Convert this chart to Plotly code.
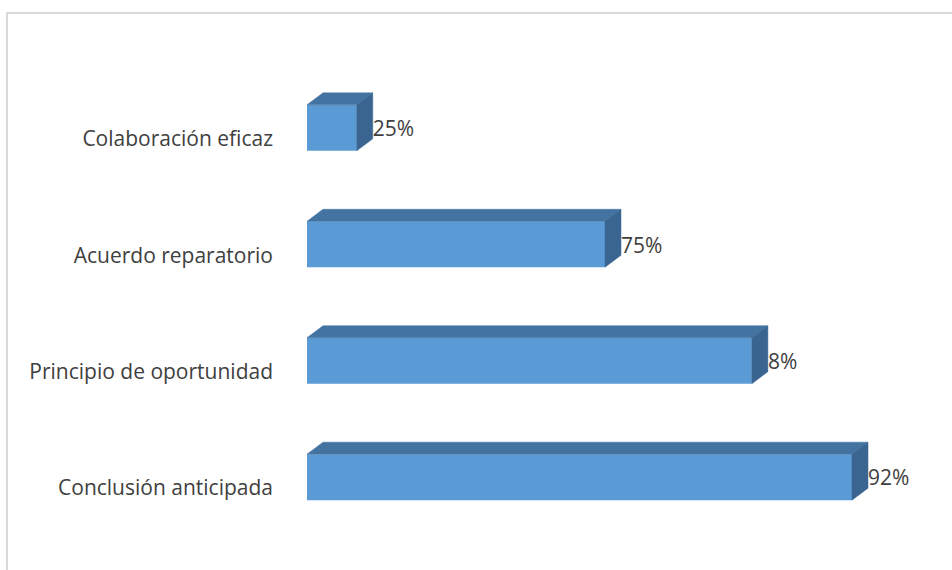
import plotly.graph_objects as go

categories = ["Conclusión anticipada", "Principio de oportunidad", "Acuerdo reparatorio", "Colaboración eficaz"]
values = [92, 75.1, 50.3, 8.4]
labels = ["92%", "8%", "75%", "25%"]

W, H = 952, 570
ml, mr, mt, mb = 307, 23, 58, 23
xr = [0, 105]
yr = [-0.6, 3.6]
pw = W - ml - mr
ph = H - mt - mb
pxu = pw / (xr[1] - xr[0])
pyu = ph / (yr[1] - yr[0])

bw = 46 / pyu          # bar thickness in y units
dx = 16 / pxu          # depth along x
dy = 12 / pyu          # depth along y
lab_off = 11 / pyu     # category labels sit slightly below bar centres
val_off = 3 / pyu      # value labels sit a little below bar centres

front = "#5B9BD5"
top_c = "#4373A1"
side_c = "#3A6591"
FONT = "Open Sans"

fig = go.Figure()
ys = list(range(len(categories)))
for i, (v, y) in enumerate(zip(values, ys)):
    t = y + bw / 2
    b = y - bw / 2
    # top face
    fig.add_trace(go.Scatter(x=[0, v, v + dx, dx, 0], y=[t, t, t + dy, t + dy, t],
                             fill="toself", fillcolor=top_c, mode="lines",
                             line=dict(color=top_c, width=0.5), hoverinfo="skip", showlegend=False))
    # side face
    fig.add_trace(go.Scatter(x=[v, v + dx, v + dx, v, v], y=[b, b + dy, t + dy, t, b],
                             fill="toself", fillcolor=side_c, mode="lines",
                             line=dict(color=side_c, width=0.5), hoverinfo="skip", showlegend=False))

fig.add_trace(go.Bar(x=values, y=ys, orientation="h", width=bw, marker=dict(color=front, line=dict(width=0)),
                     showlegend=False, hoverinfo="skip"))

fig.add_trace(go.Scatter(x=[v + dx for v in values], y=[y - val_off for y in ys], mode="text", text=labels,
                         textposition="middle right", textfont=dict(size=21, color="#404040", family=FONT),
                         showlegend=False, hoverinfo="skip", cliponaxis=False))

fig.update_layout(
    width=W, height=H, margin=dict(l=ml, r=mr, t=mt, b=mb),
    paper_bgcolor="white", plot_bgcolor="white",
    barmode="overlay",
    xaxis=dict(range=xr, visible=False, fixedrange=True),
    yaxis=dict(range=yr, tickvals=[y - lab_off for y in ys], ticktext=categories, showgrid=False,
               zeroline=False, showline=False, ticks="", ticklabelstandoff=33,
               tickfont=dict(size=21, color="#404040", family=FONT)),
    font=dict(family=FONT, color="#404040"),
)

# outer chart frame
fx0 = (7 - ml) / pw
fy1 = 1 + (mt - 13) / ph
fig.add_shape(type="rect", xref="paper", yref="paper", x0=fx0, x1=1 + (mr + 20) / pw,
              y0=-(mb + 20) / ph, y1=fy1, line=dict(color="#D9D9D9", width=2), fillcolor="rgba(0,0,0,0)",
              layer="below")

fig.write_html("out.html")
